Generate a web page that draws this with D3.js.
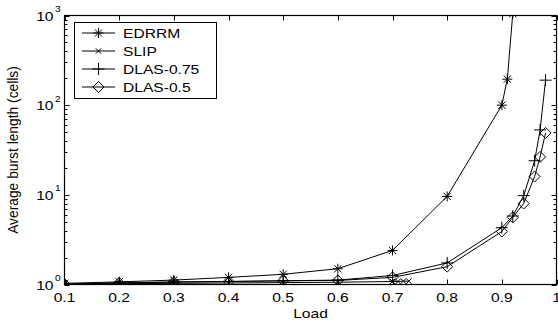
<!DOCTYPE html>
<html>
<head>
<meta charset="utf-8">
<script src="https://cdn.jsdelivr.net/npm/d3@7"></script>
<style>
  body { margin: 0; background: #fff; }
  svg { display: block; }
</style>
</head>
<body>
<svg id="chart" width="558" height="324"></svg>
<script>
// series data
const names = ["EDRRM", "SLIP", "DLAS-0.75", "DLAS-0.5"];
const markers = ["star", "x", "plus", "diamond"];

const edrrmLoad = [0.1, 0.2, 0.3, 0.4, 0.5, 0.6, 0.7, 0.8, 0.9, 0.91, 0.92];
const edrrmVal = [1.03, 1.07, 1.12, 1.2, 1.3, 1.5, 2.4, 9.6, 100, 195, 1050];

const slipLoad = [0.1, 0.2, 0.3, 0.4, 0.5, 0.6, 0.7, 0.71, 0.72, 0.73];
const slipVal = [1.0, 1.02, 1.03, 1.04, 1.05, 1.06, 1.08, 1.08, 1.09, 1.09];

const dlas75Load = [0.1, 0.2, 0.3, 0.4, 0.5, 0.6, 0.7, 0.8, 0.9, 0.92, 0.94, 0.96, 0.97, 0.98];
const dlas75Val = [1.01, 1.04, 1.07, 1.08, 1.1, 1.12, 1.26, 1.74, 4.3, 5.8, 9.8, 24, 53, 190];

const dlas5Load = [0.1, 0.2, 0.3, 0.4, 0.5, 0.6, 0.7, 0.8, 0.9, 0.92, 0.94, 0.96, 0.97, 0.98];
const dlas5Val = [1.01, 1.04, 1.06, 1.08, 1.1, 1.11, 1.2, 1.58, 3.9, 5.6, 8, 16, 26.5, 49];

const xTicks = [0.1, 0.2, 0.3, 0.4, 0.5, 0.6, 0.7, 0.8, 0.9, 1];
const yExp = [0, 1, 2, 3];

const series = [
    { name: names[0], marker: markers[0], x: edrrmLoad, y: edrrmVal },
    { name: names[1], marker: markers[1], x: slipLoad, y: slipVal },
    { name: names[2], marker: markers[2], x: dlas75Load, y: dlas75Val },
    { name: names[3], marker: markers[3], x: dlas5Load, y: dlas5Val }
];

const svg = d3.select("#chart");
const font = "'Liberation Sans', Arial, sans-serif";
const m = { left: 64.5, right: 556.5, top: 15.5, bottom: 284.5 };
const sx = 1.2; // the picture's text is a bit wider than tall

const x = d3.scaleLinear().domain([0.1, 1]).range([m.left, m.right]);
const y = d3.scaleLog().domain([1, 1000]).range([m.bottom, m.top]);

// horizontal text, stretched a little in x
function hText(g, px, py, str, size, anchor) {
    return g.append("text")
        .attr("transform", `translate(${px},${py}) scale(${sx},1)`)
        .attr("text-anchor", anchor || "start")
        .attr("font-family", font)
        .attr("font-size", size)
        .text(str);
}

// marker shapes
function markerPath(type, s) {
    if (type === "star") {
        const d = s * 0.72;
        return `M${-s},0L${s},0M0,${-s}L0,${s}M${-d},${-d}L${d},${d}M${-d},${d}L${d},${-d}`;
    }
    if (type === "x") {
        const d = s * 0.6;
        return `M${-d},${-d}L${d},${d}M${-d},${d}L${d},${-d}`;
    }
    if (type === "plus") {
        return `M${-s},0L${s},0M0,${-s}L0,${s}`;
    }
    // diamond
    return `M0,${-s}L${s},0L0,${s}L${-s},0Z`;
}
const markerSize = { star: 5, x: 4.5, plus: 6, diamond: 5.5 };

svg.append("defs").append("clipPath").attr("id", "clip")
    .append("rect")
    .attr("x", m.left).attr("y", m.top)
    .attr("width", m.right - m.left).attr("height", m.bottom - m.top);

// axes, ticks pointing inwards (MATLAB style)
const minorVals = [];
for (let e = 0; e < 3; e++) {
    for (let k = 2; k <= 9; k++) minorVals.push(k * Math.pow(10, e));
}

const axisG = svg.append("g").attr("stroke", "#000").attr("stroke-width", 1);

xTicks.forEach(t => {
    const px = Math.round(x(t)) + 0.5;
    axisG.append("line").attr("x1", px).attr("x2", px).attr("y1", m.bottom).attr("y2", m.bottom - 5);
    axisG.append("line").attr("x1", px).attr("x2", px).attr("y1", m.top).attr("y2", m.top + 5);
});
yExp.forEach(e => {
    const py = Math.round(y(Math.pow(10, e))) + 0.5;
    axisG.append("line").attr("x1", m.left).attr("x2", m.left + 5).attr("y1", py).attr("y2", py);
    axisG.append("line").attr("x1", m.right).attr("x2", m.right - 5).attr("y1", py).attr("y2", py);
});
minorVals.forEach(v => {
    const py = Math.round(y(v)) + 0.5;
    axisG.append("line").attr("x1", m.left).attr("x2", m.left + 3).attr("y1", py).attr("y2", py);
    axisG.append("line").attr("x1", m.right).attr("x2", m.right - 3).attr("y1", py).attr("y2", py);
});

axisG.append("rect")
    .attr("x", m.left).attr("y", m.top)
    .attr("width", m.right - m.left).attr("height", m.bottom - m.top)
    .attr("fill", "none").attr("stroke-width", 1.2);

// tick labels
const labels = svg.append("g");
xTicks.forEach(t => {
    hText(labels, x(t), 302, t === 1 ? "1" : d3.format(".1f")(t), 13, "middle");
});
yExp.forEach(e => {
    const py = y(Math.pow(10, e));
    hText(labels, 53.5, py + 5, "10", 13, "end");
    hText(labels, 55, py - 3.5, String(e), 8.5, "start");
});

// axis titles
hText(svg, x(0.55), 318, "Load", 13, "middle");

svg.append("text")
    .attr("transform", `translate(18,${(m.top + m.bottom) / 2}) rotate(-90)`)
    .attr("text-anchor", "middle")
    .attr("font-family", font)
    .attr("font-size", 13.8)
    .text("Average burst length (cells)");

// lines and markers
const line = d3.line().x(d => x(d[0])).y(d => y(d[1]));
const plot = svg.append("g").attr("clip-path", "url(#clip)");

series.forEach(s => {
    const pts = s.x.map((v, i) => [v, s.y[i]]);
    plot.append("path")
        .datum(pts)
        .attr("d", line)
        .attr("fill", "none")
        .attr("stroke", "#000")
        .attr("stroke-width", 1);
    plot.append("g").selectAll("path")
        .data(pts)
        .join("path")
        .attr("transform", d => `translate(${x(d[0])},${y(d[1])})`)
        .attr("d", markerPath(s.marker, markerSize[s.marker]))
        .attr("fill", "none")
        .attr("stroke", "#000")
        .attr("stroke-width", 1);
});

// legend
const leg = svg.append("g");
leg.append("rect")
    .attr("x", 74.5).attr("y", 22.5)
    .attr("width", 142).attr("height", 76)
    .attr("fill", "#fff").attr("stroke", "#000").attr("stroke-width", 1);

series.forEach((s, i) => {
    const ly = 33 + i * 18;
    leg.append("line")
        .attr("x1", 82).attr("x2", 115).attr("y1", ly).attr("y2", ly)
        .attr("stroke", "#000");
    leg.append("path")
        .attr("transform", `translate(98.5,${ly})`)
        .attr("d", markerPath(s.marker, markerSize[s.marker]))
        .attr("fill", "none").attr("stroke", "#000");
    hText(leg, 123, ly + 5, s.name, 13, "start");
});
</script>
</body>
</html>
